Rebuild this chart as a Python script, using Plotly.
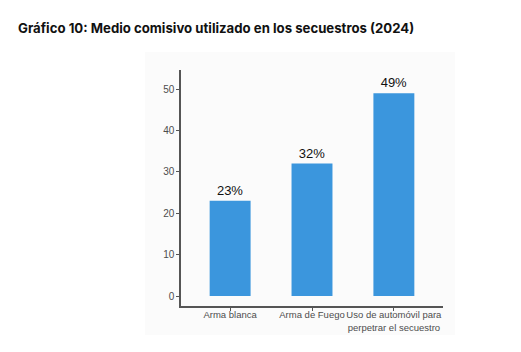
import plotly.graph_objects as go

categories = ["Arma blanca", "Arma de Fuego", "Uso de automóvil para<br>perpetrar el secuestro"]
values = [23, 32, 49]
labels = ["23%", "32%", "49%"]
y_ticks = [0, 10, 20, 30, 40, 50]

fig = go.Figure()
fig.add_trace(go.Bar(
    x=categories, y=values, width=0.5,
    marker=dict(color="#3B96DD", line=dict(width=0)),
    text=labels, textposition="outside", cliponaxis=False,
    textfont=dict(family="Liberation Sans, Arial", size=13, color="#111111"),
    hoverinfo="skip",
))

fig.add_shape(type="rect", xref="paper", yref="paper",
              x0=-0.137, x1=1.046, y0=-0.123, y1=1.076,
              fillcolor="#fbfbfb", line=dict(width=0), layer="below")

fig.update_layout(
    width=521, height=352,
    margin=dict(l=181, r=78, t=70, b=46, autoexpand=False),
    paper_bgcolor="white", plot_bgcolor="rgba(0,0,0,0)",
    showlegend=False,
    title=dict(text="<b>Gráfico 10: Medio comisivo utilizado en los secuestros (2024)</b>",
               xref="container", x=18/521, xanchor="left",
               yref="container", y=1-28/352, yanchor="middle",
               font=dict(family="Inter", size=13.2, color="#111111")),
)
fig.update_xaxes(
    range=[-0.6, 2.6], showline=True, linecolor="#555555", linewidth=1.5,
    ticks="outside", ticklen=3, tickcolor="#555555", tickwidth=1, tickangle=0,
    automargin=False, ticklabelstandoff=-4,
    tickfont=dict(family="Liberation Sans, Arial", size=9.5, color="#4d4d4d"),
    showgrid=False, zeroline=False, fixedrange=True,
)
fig.update_yaxes(
    range=[-2.4, 54.6], tickvals=y_ticks, showline=True, linecolor="#555555", linewidth=1.5,
    ticks="outside", ticklen=3, tickcolor="#555555", tickwidth=1,
    automargin=False,
    tickfont=dict(family="Liberation Sans, Arial", size=10, color="#4d4d4d"),
    showgrid=False, zeroline=False, fixedrange=True,
)

fig.write_html("out.html")
